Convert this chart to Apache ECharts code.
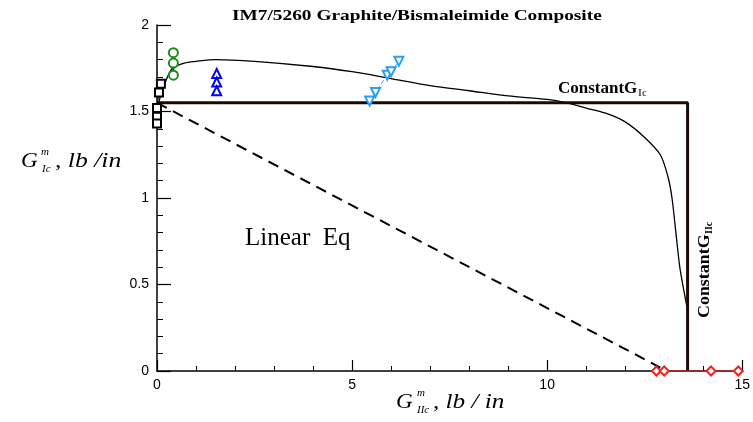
<!DOCTYPE html>
<html><head><meta charset="utf-8">
<script src="https://cdn.jsdelivr.net/npm/echarts@6/dist/echarts.min.js"></script>
<style>html,body{margin:0;padding:0;background:#fff}#c{width:753px;height:422px}</style>
</head><body><div id="c"></div>
<script>
// ---- data ----
const xTicks = [0, 5, 10, 15];
const yTicks = [0, 0.5, 1, 1.5, 2];
// Constant G_Ic criterion (thick line)
const constX = [0, 13.6, 13.6];
const constY = [1.55, 1.55, 0];
// fitted curve (thin line)
const curveX = [0, 0.1, 0.25, 0.4, 0.7, 1.0, 1.5, 2.5, 4, 5, 6, 7, 8, 9, 10, 10.5, 11, 11.5, 12, 12.5, 12.9, 13.1, 13.2, 13.3, 13.4, 13.5, 13.6];
const curveY = [1.5, 1.6, 1.69, 1.75, 1.78, 1.79, 1.8, 1.79, 1.76, 1.73, 1.69, 1.65, 1.62, 1.59, 1.57, 1.55, 1.52, 1.49, 1.44, 1.35, 1.25, 1.12, 1.0, 0.8, 0.6, 0.47, 0.35];
// linear equation (dashed)
const linX = [0, 12.9];
const linY = [1.55, 0.02];
// test data
const sqX = [0.1, 0.05, 0, 0, 0];
const sqY = [1.66, 1.61, 1.52, 1.47, 1.43];
const circX = [0.42, 0.42, 0.42];
const circY = [1.84, 1.78, 1.71];
const triX = [1.53, 1.53, 1.53];
const triY = [1.72, 1.67, 1.62];
const invX = [5.45, 5.6, 5.9, 6.0, 6.2];
const invY = [1.56, 1.61, 1.71, 1.73, 1.79];
const redX = [12.8, 13.0, 14.2, 14.9];
const redY = [0, 0, 0, 0];

const zip = (a, b) => a.map((v, i) => [v, b[i]]);
const serif = '"Liberation Serif", "DejaVu Serif", serif';
const sans = '"Liberation Sans", Arial, sans-serif';

const chart = echarts.init(document.getElementById('c'));
chart.setOption({
  animation: false,
  backgroundColor: '#fff',
  grid: { left: 157, right: 7, top: 25, bottom: 51 },
  xAxis: {
    type: 'value', min: 0, max: 15, interval: 5,
    axisLine: { show: true, onZero: false, lineStyle: { color: '#000', width: 1.5 } },
    axisTick: { show: true, inside: true, length: 11, lineStyle: { color: '#000', width: 1.2 } },
    minorTick: { show: true, splitNumber: 5, length: 5, lineStyle: { color: '#000', width: 1 } },
    splitLine: { show: false },
    axisLabel: { color: '#000', fontFamily: sans, fontSize: 14, margin: 7,
      formatter: v => xTicks.includes(v) ? String(v) : '' }
  },
  yAxis: {
    type: 'value', min: 0, max: 2, interval: 0.5,
    axisLine: { show: true, lineStyle: { color: '#000', width: 1.5 } },
    axisTick: { show: true, inside: true, length: 14, lineStyle: { color: '#000', width: 1.2 } },
    minorTick: { show: true, splitNumber: 5, length: 6, lineStyle: { color: '#000', width: 1 } },
    splitLine: { show: false },
    axisLabel: { color: '#000', fontFamily: sans, fontSize: 14, margin: 8,
      formatter: v => yTicks.includes(v) ? String(v) : '' }
  },
  series: [
    { type: 'line', data: zip(linX, linY), symbol: 'none', z: 2,
      lineStyle: { color: '#000', width: 2, type: [11, 7] } },
    { type: 'line', data: zip(curveX, curveY), symbol: 'none', smooth: 0.3, z: 3,
      lineStyle: { color: '#000', width: 1.3 } },
    { type: 'line', data: zip(constX, constY), symbol: 'none', z: 4,
      lineStyle: { color: '#1a0a04', width: 3 } },
    { type: 'line', data: zip(sqX, sqY), symbol: 'emptyRect', symbolSize: 8, z: 5,
      itemStyle: { color: '#000' }, lineStyle: { color: '#000', width: 1 } },
    { type: 'line', data: zip(circX, circY), symbol: 'emptyCircle', symbolSize: 9, z: 5,
      itemStyle: { color: '#1a8a1a' }, lineStyle: { color: '#0a4a0a', width: 2 } },
    { type: 'line', data: zip(triX, triY), symbol: 'emptyTriangle', symbolSize: 9, z: 5,
      itemStyle: { color: '#0000ff' }, lineStyle: { color: '#0000ff', width: 1 } },
    { type: 'line', data: zip(invX, invY), symbol: 'emptyTriangle', symbolRotate: 180, symbolSize: 9, z: 5,
      itemStyle: { color: '#2a9df4' }, lineStyle: { color: '#2a9df4', width: 1, type: [4, 3] } },
    { type: 'line', data: zip(redX, redY), symbol: 'emptyDiamond', symbolSize: 9, z: 6,
      itemStyle: { color: '#ee2222' }, lineStyle: { color: '#ee2222', width: 1.2 } }
  ],
  graphic: [
    { type: 'text', x: 232, y: 9, scaleX: 1.29, style: { text: 'IM7/5260 Graphite/Bismaleimide Composite',
      font: 'bold 15px ' + serif, fill: '#000' } },
    { type: 'text', x: 245, y: 226, style: { text: 'Linear  Eq', font: '25px ' + serif, fill: '#000' } },
    { type: 'text', x: 558, y: 80, style: { text: 'ConstantG', font: 'bold 17px ' + serif, fill: '#000' } },
    { type: 'text', x: 638, y: 88, style: { text: 'Ic', font: 'bold 10px ' + serif, fill: '#555' } },
    { type: 'group', x: 697, y: 318, rotation: Math.PI / 2, children: [
      { type: 'text', x: 0, y: 0, scaleX: 1.12, style: { text: 'ConstantG', font: 'bold 16px ' + serif, fill: '#000' } },
      { type: 'text', x: 84, y: 7, style: { text: 'IIc', font: 'bold 10px ' + serif, fill: '#000' } }
    ] },
    // y axis name
    { type: 'text', x: 21, y: 151, scaleX: 1.1, style: { text: 'G', font: 'italic 21px ' + serif, fill: '#000' } },
    { type: 'text', x: 41, y: 147, style: { text: 'm', font: 'italic 11px ' + serif, fill: '#000' } },
    { type: 'text', x: 42, y: 164, style: { text: 'Ic', font: 'italic 11px ' + serif, fill: '#000' } },
    { type: 'text', x: 55, y: 151, scaleX: 1.22, style: { text: ', lb /in', font: 'italic 21px ' + serif, fill: '#000' } },
    // x axis name
    { type: 'text', x: 396, y: 392, scaleX: 1.1, style: { text: 'G', font: 'italic 21px ' + serif, fill: '#000' } },
    { type: 'text', x: 417, y: 388, style: { text: 'm', font: 'italic 11px ' + serif, fill: '#000' } },
    { type: 'text', x: 417, y: 405, style: { text: 'IIc', font: 'italic 11px ' + serif, fill: '#000' } },
    { type: 'text', x: 433, y: 392, scaleX: 1.2, style: { text: ', lb / in', font: 'italic 21px ' + serif, fill: '#000' } }
  ]
});
</script></body></html>
